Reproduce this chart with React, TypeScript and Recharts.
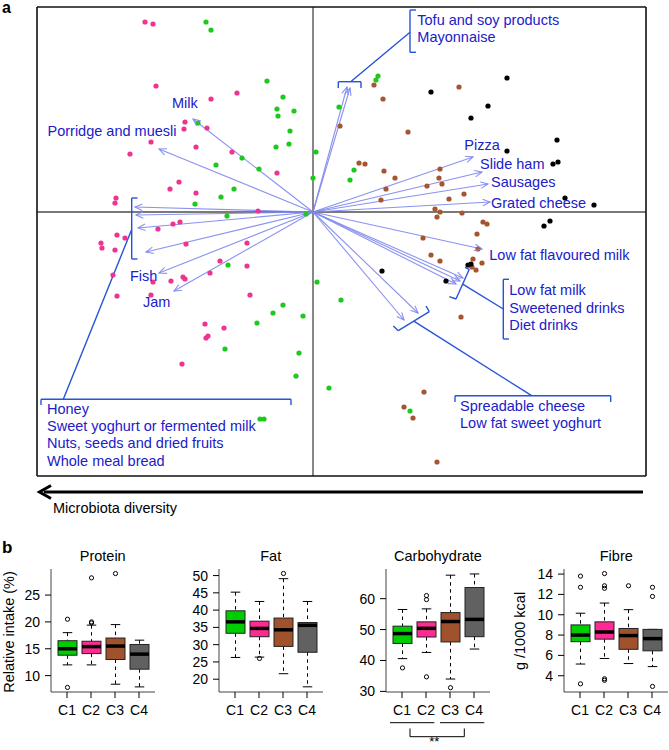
import React from 'react';
import { ScatterChart, Scatter, XAxis, YAxis, ReferenceLine, ComposedChart, Bar } from 'recharts';

const FONT = '"Liberation Sans", Arial, Helvetica, sans-serif';

// ---------- Panel a: ordination scores ----------
const X_DOMAIN: [number, number] = [-2.76, 3.33];
const Y_DOMAIN: [number, number] = [-2.64, 2.05];

type P = { x: number; y: number };

const pinkPoints: P[] = [
  { x: -1.68, y: 1.9 }, { x: -1.6, y: 1.88 }, { x: -1.57, y: 1.26 }, { x: -0.76, y: 1.19 },
  { x: -1.02, y: 1.13 }, { x: -1.28, y: 0.9 }, { x: -1.29, y: 0.83 }, { x: -1.06, y: 0.84 },
  { x: -1.62, y: 0.7 }, { x: -1.83, y: 0.58 }, { x: -1.17, y: 0.65 }, { x: -0.81, y: 0.6 },
  { x: -0.36, y: 0.39 }, { x: -1.34, y: 0.3 }, { x: -1.43, y: 0.23 }, { x: -1.17, y: 0.19 },
  { x: -1.97, y: 0.14 }, { x: -1.98, y: 0.09 }, { x: -0.55, y: 0.01 }, { x: -1.33, y: -0.1 },
  { x: -1.4, y: -0.12 }, { x: -1.55, y: -0.17 }, { x: -1.96, y: -0.23 }, { x: -1.88, y: -0.26 },
  { x: -2.12, y: -0.31 }, { x: -2.11, y: -0.36 }, { x: -1.98, y: -0.38 }, { x: -0.66, y: -0.31 },
  { x: -1.27, y: -0.32 }, { x: -0.93, y: -0.49 }, { x: -0.66, y: -0.54 }, { x: -2.0, y: -0.63 },
  { x: -1.6, y: -0.7 }, { x: -1.42, y: -0.69 }, { x: -1.3, y: -0.65 }, { x: -1.28, y: -0.67 },
  { x: -1.03, y: -0.61 }, { x: -1.96, y: -0.84 }, { x: -1.62, y: -0.83 }, { x: -0.63, y: -0.83 },
  { x: -1.08, y: -1.12 }, { x: -0.89, y: -1.16 }, { x: -1.07, y: -1.26 }, { x: -1.05, y: -1.24 },
  { x: -1.31, y: -1.52 },
];

const greenPoints: P[] = [
  { x: -1.07, y: 1.9 }, { x: -1.02, y: 1.82 }, { x: -0.46, y: 1.31 }, { x: -0.3, y: 1.15 },
  { x: -0.36, y: 1.03 }, { x: -0.35, y: 0.96 }, { x: -0.19, y: 1.01 }, { x: -0.23, y: 0.81 },
  { x: -0.24, y: 0.68 }, { x: -0.37, y: 0.65 }, { x: 0.03, y: 0.6 }, { x: 0.0, y: 0.34 },
  { x: -0.71, y: 0.54 }, { x: -0.54, y: 0.43 }, { x: -0.97, y: 0.47 }, { x: -1.15, y: 0.89 },
  { x: -0.79, y: 0.23 }, { x: -0.92, y: 0.15 }, { x: -1.18, y: 0.08 }, { x: -0.86, y: -0.04 },
  { x: -0.07, y: -0.02 }, { x: 0.26, y: 1.05 }, { x: 0.65, y: 1.36 }, { x: 0.63, y: 1.32 },
  { x: 0.41, y: 0.42 }, { x: 0.37, y: 0.32 }, { x: -0.85, y: -0.53 }, { x: 0.04, y: -0.7 },
  { x: -0.3, y: -0.93 }, { x: -0.4, y: -1.01 }, { x: -0.1, y: -1.04 }, { x: -0.56, y: -1.11 },
  { x: -0.88, y: -1.37 }, { x: -0.14, y: -1.41 }, { x: -0.17, y: -1.64 }, { x: 0.16, y: -1.76 },
  { x: 0.28, y: -0.88 }, { x: -0.53, y: -2.07 }, { x: -0.49, y: -2.07 }, { x: 0.97, y: -1.99 },
];

const brownPoints: P[] = [
  { x: 0.61, y: 1.27 }, { x: 0.7, y: 1.13 }, { x: 0.27, y: 0.86 }, { x: 1.46, y: 1.25 },
  { x: 0.95, y: 0.8 }, { x: 0.46, y: 0.49 }, { x: 0.52, y: 0.48 }, { x: 0.71, y: 0.41 },
  { x: 0.82, y: 0.34 }, { x: 0.73, y: 0.23 }, { x: 0.68, y: 0.12 }, { x: 1.14, y: 0.26 },
  { x: 1.27, y: 0.43 }, { x: 1.26, y: 0.34 }, { x: 1.29, y: 0.28 }, { x: 1.36, y: 0.13 },
  { x: 1.51, y: 0.18 }, { x: 1.22, y: 0.03 }, { x: 1.27, y: 0.0 }, { x: 1.24, y: -0.05 },
  { x: 1.49, y: -0.01 }, { x: 1.7, y: -0.1 }, { x: 1.74, y: -0.12 }, { x: 1.64, y: -0.22 },
  { x: 1.1, y: -0.26 }, { x: 1.18, y: -0.43 }, { x: 1.27, y: -0.49 }, { x: 1.6, y: -0.47 },
  { x: 1.69, y: -0.51 }, { x: 1.63, y: -0.58 }, { x: 1.59, y: -0.55 }, { x: 1.65, y: -0.37 },
  { x: 1.48, y: -1.05 }, { x: 1.11, y: -1.8 }, { x: 0.91, y: -1.95 }, { x: 1.0, y: -2.06 },
  { x: 1.24, y: -2.5 },
];

const blackPoints: P[] = [
  { x: 1.94, y: 1.34 }, { x: 1.18, y: 1.2 }, { x: 1.75, y: 1.06 }, { x: 1.58, y: 0.94 },
  { x: 2.44, y: 0.72 }, { x: 1.94, y: 0.61 }, { x: 2.4, y: 0.48 }, { x: 2.45, y: 0.5 },
  { x: 2.52, y: 0.14 }, { x: 2.81, y: 0.07 }, { x: 2.31, y: -0.14 }, { x: 2.37, y: -0.09 },
  { x: 1.55, y: -0.53 }, { x: 1.58, y: -0.52 }, { x: 0.69, y: -0.59 }, { x: 1.33, y: -0.69 },
];

// food loadings (arrow tips)
const foodArrows = [
  { food: 'Milk', x: -1.2, y: 0.93 },
  { food: 'Porridge and muesli', x: -1.54, y: 0.63 },
  { food: 'Honey', x: -1.78, y: 0.05 },
  { food: 'Sweet yoghurt or fermented milk', x: -1.77, y: -0.03 },
  { food: 'Nuts, seeds and dried fruits', x: -1.75, y: -0.16 },
  { food: 'Whole meal bread', x: -1.67, y: -0.4 },
  { food: 'Fish', x: -1.54, y: -0.61 },
  { food: 'Jam', x: -1.39, y: -0.79 },
  { food: 'Tofu and soy products', x: 0.34, y: 1.25 },
  { food: 'Mayonnaise', x: 0.37, y: 1.24 },
  { food: 'Pizza', x: 1.6, y: 0.55 },
  { food: 'Slide ham', x: 1.69, y: 0.4 },
  { food: 'Sausages', x: 1.75, y: 0.28 },
  { food: 'Grated cheese', x: 1.77, y: 0.1 },
  { food: 'Low fat flavoured milk', x: 1.69, y: -0.37 },
  { food: 'Low fat milk', x: 1.5, y: -0.66 },
  { food: 'Sweetened drinks', x: 1.47, y: -0.69 },
  { food: 'Diet drinks', x: 1.43, y: -0.72 },
  { food: 'Spreadable cheese', x: 0.91, y: -1.08 },
  { food: 'Low fat sweet yoghurt', x: 1.05, y: -1.01 },
];

// label text anchors (left, baseline) in plot units
const labelAnchors = [
  { text: 'Milk', x: -1.41, y: 1.045 },
  { text: 'Porridge and muesli', x: -2.655, y: 0.765 },
  { text: 'Fish', x: -1.83, y: -0.685 },
  { text: 'Jam', x: -1.7, y: -0.95 },
  { text: 'Honey', x: -2.66, y: -2.02 },
  { text: 'Sweet yoghurt or fermented milk', x: -2.66, y: -2.193 },
  { text: 'Nuts, seeds and dried fruits', x: -2.66, y: -2.363 },
  { text: 'Whole meal bread', x: -2.66, y: -2.535 },
  { text: 'Tofu and soy products', x: 1.043, y: 1.875 },
  { text: 'Mayonnaise', x: 1.043, y: 1.703 },
  { text: 'Pizza', x: 1.513, y: 0.62 },
  { text: 'Slide ham', x: 1.67, y: 0.43 },
  { text: 'Sausages', x: 1.78, y: 0.253 },
  { text: 'Grated cheese', x: 1.78, y: 0.037 },
  { text: 'Low fat flavoured milk', x: 1.763, y: -0.477 },
  { text: 'Low fat milk', x: 1.963, y: -0.833 },
  { text: 'Sweetened drinks', x: 1.963, y: -1.007 },
  { text: 'Diet drinks', x: 1.963, y: -1.183 },
  { text: 'Spreadable cheese', x: 1.47, y: -1.987 },
  { text: 'Low fat sweet yoghurt', x: 1.47, y: -2.163 },
];

// bracket / leader segments [x1, y1, x2, y2]
const bracketSegments: [number, number, number, number][] = [
  // tofu / mayonnaise
  [0.253, 1.303, 0.48, 1.303], [0.253, 1.303, 0.253, 1.24], [0.48, 1.303, 0.48, 1.24],
  [0.377, 1.303, 0.97, 1.797],
  [0.97, 2.02, 0.97, 1.597], [0.97, 2.02, 1.03, 2.02], [0.97, 1.597, 1.03, 1.597],
  // left group
  [-1.813, 0.14, -1.813, -0.47], [-1.813, 0.14, -1.755, 0.14], [-1.813, -0.47, -1.755, -0.47],
  [-1.813, -0.175, -2.497, -1.873],
  [-2.72, -1.873, -0.22, -1.873], [-2.72, -1.873, -2.72, -1.93], [-0.22, -1.873, -0.22, -1.93],
  // low fat milk group
  [1.363, -0.847, 1.43, -0.87], [1.43, -0.87, 1.563, -0.573], [1.563, -0.573, 1.52, -0.553],
  [1.497, -0.722, 1.903, -0.97],
  [1.903, -0.673, 1.903, -1.27], [1.903, -0.673, 1.96, -0.673], [1.903, -1.27, 1.96, -1.27],
  // spreadable group
  [0.803, -1.14, 0.853, -1.187], [0.853, -1.187, 1.163, -0.997], [1.163, -0.997, 1.13, -0.94],
  [1.008, -1.092, 2.187, -1.837],
  [1.42, -1.837, 2.977, -1.837], [1.42, -1.837, 1.42, -1.9], [2.977, -1.837, 2.977, -1.9],
];

// ---------- Panel b: boxplots ----------
const groups = ['C1', 'C2', 'C3', 'C4'];
const groupFills = ['#00cd00', '#ff2a93', '#a0522d', '#616161'];

// [lower whisker, Q1, median, Q3, upper whisker]
const proteinStats = [
  [12.0, 13.8, 15.0, 16.5, 18.0],
  [12.0, 14.1, 15.4, 16.4, 19.4],
  [8.4, 13.0, 15.5, 17.0, 19.5],
  [7.9, 11.2, 14.0, 15.8, 16.6],
];
const proteinOutliers = [[20.5, 7.8], [20.0, 19.8, 28.2], [29.0], []];

const fatStats = [
  [26.3, 33.3, 36.6, 39.8, 45.2],
  [26.4, 32.3, 34.7, 36.8, 42.5],
  [21.6, 29.5, 34.3, 37.7, 49.1],
  [17.8, 27.8, 35.6, 36.4, 42.5],
];
const fatOutliers = [[], [26.0], [50.6], []];

const carbStats = [
  [40.6, 45.5, 48.7, 51.1, 56.5],
  [42.6, 47.6, 50.4, 52.5, 56.7],
  [34.0, 46.0, 52.6, 55.5, 67.6],
  [43.7, 47.7, 53.3, 63.6, 68.0],
];
const carbOutliers = [[37.6], [59.7, 61.0, 34.7], [31.2], []];

const fibreStats = [
  [5.15, 7.35, 8.0, 9.0, 10.15],
  [5.7, 7.6, 8.3, 9.3, 11.15],
  [5.2, 6.6, 7.95, 8.65, 10.5],
  [4.9, 6.45, 7.65, 8.56, 8.56],
];
const fibreOutliers = [[12.7, 13.8, 3.2], [14.05, 12.85, 12.6, 3.7, 3.55], [12.85], [12.7, 11.8, 2.95]];

const proteinTicks = [10, 15, 20, 25];
const fatTicks = [20, 25, 30, 35, 40, 45, 50];
const carbTicks = [30, 40, 50, 60];
const fibreTicks = [4, 6, 8, 10, 12, 14];

const buildRows = (stats: number[][], outs: number[][]) =>
  groups.map((g, i) => ({
    name: g,
    box: [stats[i][1], stats[i][3]],
    lo: stats[i][0],
    med: stats[i][2],
    hi: stats[i][4],
    out: outs[i],
  }));

// ---------- shapes ----------
const dot = (color: string) => (p: any) => (
  <circle cx={p.cx} cy={p.cy} r={2.6} fill={color} stroke="none" />
);

const ARROW_COLOR = '#7d86ee';
const LABEL_COLOR = '#2020c8';
const BRACKET_COLOR = '#2454d8';

const ArrowHead = (p: any) => {
  const { cx, cy, payload } = p;
  const ang = Math.atan2(-payload.y, payload.x) + Math.PI;
  const L = 8;
  const a = 0.42;
  const x1 = cx + L * Math.cos(ang - a);
  const y1 = cy + L * Math.sin(ang - a);
  const x2 = cx + L * Math.cos(ang + a);
  const y2 = cy + L * Math.sin(ang + a);
  return (
    <path d={`M${x1},${y1} L${cx},${cy} L${x2},${y2}`} fill="none" stroke={ARROW_COLOR} strokeWidth={1.1} strokeOpacity={0.9} />
  );
};

const LabelShape = (p: any) => (
  <text x={p.cx} y={p.cy} fill={LABEL_COLOR} fontSize={14.5} fontFamily={FONT}>
    {p.payload.text}
  </text>
);

const BoxShape = (props: any) => {
  const { x, y, width, height, payload, index } = props;
  const [q1, q3] = payload.box;
  const top = Math.min(y, y + height);
  const h = Math.abs(height);
  const k = h / (q3 - q1);
  const py = (v: number) => top + (q3 - v) * k;
  const cx = x + width / 2;
  const cap = width * 0.25;
  return (
    <g>
      <line x1={cx} x2={cx} y1={py(payload.hi)} y2={py(q3)} stroke="#000" strokeDasharray="3.5 3.5" strokeWidth={1} />
      <line x1={cx} x2={cx} y1={py(q1)} y2={py(payload.lo)} stroke="#000" strokeDasharray="3.5 3.5" strokeWidth={1} />
      <line x1={cx - cap} x2={cx + cap} y1={py(payload.hi)} y2={py(payload.hi)} stroke="#000" strokeWidth={1} />
      <line x1={cx - cap} x2={cx + cap} y1={py(payload.lo)} y2={py(payload.lo)} stroke="#000" strokeWidth={1} />
      <rect x={x} y={top} width={width} height={h} fill={groupFills[index]} stroke="#222" strokeWidth={1} />
      <line x1={x} x2={x + width} y1={py(payload.med)} y2={py(payload.med)} stroke="#000" strokeWidth={3.5} />
      {payload.out.map((v: number, j: number) => (
        <circle key={j} cx={cx} cy={py(v)} r={2.1} fill="none" stroke="#000" strokeWidth={1} />
      ))}
    </g>
  );
};

const FRAME_LEFTS = [50.7, 218.7, 386, 564.3];
const PLOT_W = 104;
const PLOT_H = 123;
const PLOT_TOP = 569;

function BoxPanel(props: { left: number; rows: any[]; domain: [number, number]; ticks: number[] }) {
  const { left, rows, domain, ticks } = props;
  const tickStyle = { fontSize: 14, fill: '#000', fontFamily: FONT };
  return (
    <div style={{ position: 'absolute', left: left - 50, top: PLOT_TOP - 10 }}>
      <ComposedChart width={50 + PLOT_W + 2} height={10 + PLOT_H + 40} data={rows} margin={{ top: 10, right: 2, left: 0, bottom: 0 }}>
        <XAxis dataKey="name" type="category" padding={{ left: 4, right: 4 }} interval={0}
          tickSize={6} tickMargin={7} height={40} tick={tickStyle}
          axisLine={{ stroke: '#444' }} tickLine={{ stroke: '#000' }} />
        <XAxis xAxisId="top" orientation="top" dataKey="name" type="category" height={0}
          tick={false} tickLine={false} axisLine={{ stroke: '#444' }} />
        <YAxis type="number" domain={domain} ticks={ticks} width={50} tickSize={6} tickMargin={5}
          tick={tickStyle} axisLine={{ stroke: '#444' }} tickLine={{ stroke: '#000' }} interval={0} />
        <YAxis yAxisId="r" orientation="right" width={0} tick={false} tickLine={false} axisLine={{ stroke: '#444' }} />
        <Bar dataKey="box" barSize={19} shape={BoxShape} isAnimationActive={false} />
      </ComposedChart>
    </div>
  );
}

export default function App() {
  const scatterSets = [
    { data: pinkPoints, color: '#ee3490' },
    { data: greenPoints, color: '#1fc81f' },
    { data: brownPoints, color: '#a5552f' },
    { data: blackPoints, color: '#000000' },
  ];
  const titles = ['Protein', 'Fat', 'Carbohydrate', 'Fibre'];
  return (
    <div style={{ position: 'absolute', left: 0, top: 0, width: 669, height: 750, overflow: 'hidden', background: '#fff', fontFamily: FONT }}>
      <div style={{ position: 'absolute', left: 0, top: 0 }}>
        <ScatterChart width={669} height={490} margin={{ top: 7, left: 37, right: 23, bottom: 14 }}>
          <XAxis type="number" dataKey="x" domain={X_DOMAIN} hide />
          <YAxis type="number" dataKey="y" domain={Y_DOMAIN} hide />
          <ReferenceLine x={0} stroke="#7a7a7a" strokeWidth={1.8} ifOverflow="visible" />
          <ReferenceLine y={0} stroke="#7a7a7a" strokeWidth={1.8} ifOverflow="visible" />
          {scatterSets.map((s, i) => (
            <Scatter key={i} data={s.data} shape={dot(s.color)} isAnimationActive={false} />
          ))}
          {foodArrows.map((a, i) => (
            <ReferenceLine key={'ar' + i} segment={[{ x: 0, y: 0 }, { x: a.x, y: a.y }]} stroke={ARROW_COLOR}
              strokeWidth={1.1} strokeOpacity={0.9} ifOverflow="visible" />
          ))}
          <Scatter data={foodArrows} shape={ArrowHead} isAnimationActive={false} />
          {bracketSegments.map((s, i) => (
            <ReferenceLine key={'br' + i} segment={[{ x: s[0], y: s[1] }, { x: s[2], y: s[3] }]} stroke={BRACKET_COLOR}
              strokeWidth={1.4} ifOverflow="visible" />
          ))}
          <Scatter data={labelAnchors} shape={LabelShape} isAnimationActive={false} />
          <ReferenceLine x={X_DOMAIN[0]} stroke="#111" strokeWidth={1.6} ifOverflow="visible" />
          <ReferenceLine x={X_DOMAIN[1]} stroke="#111" strokeWidth={1.6} ifOverflow="visible" />
          <ReferenceLine y={Y_DOMAIN[0]} stroke="#111" strokeWidth={1.6} ifOverflow="visible" />
          <ReferenceLine y={Y_DOMAIN[1]} stroke="#111" strokeWidth={1.6} ifOverflow="visible" />
        </ScatterChart>
      </div>

      <BoxPanel left={FRAME_LEFTS[0]} rows={buildRows(proteinStats, proteinOutliers)} domain={[6.95, 29.85]} ticks={proteinTicks} />
      <BoxPanel left={FRAME_LEFTS[1]} rows={buildRows(fatStats, fatOutliers)} domain={[16.3, 51.9]} ticks={fatTicks} />
      <BoxPanel left={FRAME_LEFTS[2]} rows={buildRows(carbStats, carbOutliers)} domain={[29.8, 69.6]} ticks={carbTicks} />
      <BoxPanel left={FRAME_LEFTS[3]} rows={buildRows(fibreStats, fibreOutliers)} domain={[2.4, 14.5]} ticks={fibreTicks} />

      <svg width={669} height={750} style={{ position: 'absolute', left: 0, top: 0, pointerEvents: 'none' }}>
        <text x={2} y={13} fontSize={16} fontWeight="bold" fontFamily={FONT}>a</text>
        <line x1={44} x2={643} y1={492} y2={492} stroke="#000" strokeWidth={3} />
        <path d="M51,485.5 L39.5,492 L51,498.5" fill="none" stroke="#000" strokeWidth={3} />
        <text x={53} y={513} fontSize={14.5} fontFamily={FONT}>Microbiota diversity</text>
        <text x={2} y={553} fontSize={17} fontWeight="bold" fontFamily={FONT}>b</text>
        {titles.map((t, i) => (
          <text key={t} x={FRAME_LEFTS[i] + PLOT_W / 2} y={561} textAnchor="middle" fontSize={14.5} fontFamily={FONT}>{t}</text>
        ))}
        <text x={0} y={0} transform="translate(13.5,632) rotate(-90)" textAnchor="middle" fontSize={14.5} fontFamily={FONT}>Relative intake (%)</text>
        <text x={0} y={0} transform="translate(525,631) rotate(-90)" textAnchor="middle" fontSize={14.5} fontFamily={FONT}>g /1000 kcal</text>
        <line x1={390} x2={434.3} y1={722.7} y2={722.7} stroke="#000" strokeWidth={1} />
        <line x1={440} x2={484.3} y1={722.7} y2={722.7} stroke="#000" strokeWidth={1} />
        <path d="M410,728.5 L410,736.7 L464.3,736.7 L464.3,728.5" fill="none" stroke="#000" strokeWidth={1} />
        <text x={434.3} y={746} textAnchor="middle" fontSize={13} fontFamily={FONT}>**</text>
      </svg>
    </div>
  );
}
